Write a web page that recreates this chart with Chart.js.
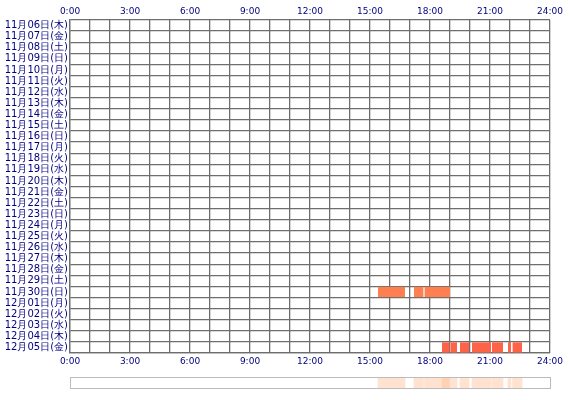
<!DOCTYPE html>
<html><head><meta charset="utf-8">
<script src="https://cdn.jsdelivr.net/npm/chart.js@4/dist/chart.umd.min.js"></script>
<style>body{margin:0;background:#fff}#w{position:relative;width:570px;height:400px}
canvas{position:absolute;left:0}</style></head>
<body><div id="w"><canvas id="c1" style="top:0" width="570" height="372"></canvas><canvas id="c2" style="top:372px" width="570" height="28"></canvas></div>
<script>
const days = ["11月06日(木)","11月07日(金)","11月08日(土)","11月09日(日)","11月10日(月)","11月11日(火)","11月12日(水)","11月13日(木)","11月14日(金)","11月15日(土)","11月16日(日)","11月17日(月)","11月18日(火)","11月19日(水)","11月20日(木)","11月21日(金)","11月22日(土)","11月23日(日)","11月24日(月)","11月25日(火)","11月26日(水)","11月27日(木)","11月28日(金)","11月29日(土)","11月30日(日)","12月01日(月)","12月02日(火)","12月03日(水)","12月04日(木)","12月05日(金)"];
const segDay   = ["11月30日(日)","11月30日(日)","11月30日(日)","12月05日(金)","12月05日(金)","12月05日(金)","12月05日(金)","12月05日(金)","12月05日(金)","12月05日(金)"];
const segStart = [15.4, 17.2, 17.73, 18.6, 19.03, 19.5, 20.1, 21.1, 21.9, 22.13];
const segEnd   = [16.75, 17.67, 19.0, 18.97, 19.35, 19.95, 21.05, 21.65, 22.05, 22.6];
const segColor = ["#ff7f50","#ff7f50","#ff7f50","#ff6347","#ff6347","#ff6347","#ff6347","#ff6347","#ff6347","#ff6347"];
const hourTicks = ["0:00","3:00","6:00","9:00","12:00","15:00","18:00","21:00","24:00"];

const segData = segStart.map((s,i)=>({x:[s,segEnd[i]], y:segDay[i]}));
const font = {family:"'DejaVu Sans', sans-serif", size:10};
const tick = {font:{family:font.family,size:9}, color:'#000080', autoSkip:false, stepSize:1, maxRotation:0,
  callback:v=> v%3===0 ? hourTicks[v/3] : ''};
new Chart(document.getElementById('c1'), {
  type:'bar',
  data:{labels:days, datasets:[{data:segData, backgroundColor:segColor, grouped:false,
    categoryPercentage:1, barPercentage:0.92, borderWidth:0}]},
  options:{responsive:false, animation:false, indexAxis:'y',
    layout:{padding:{left:0,right:20,top:0,bottom:0}},
    plugins:{legend:{display:false}, tooltip:{enabled:false}},
    scales:{
      y:{type:'category', ticks:{font, color:'#000080', autoSkip:false, padding:2},
        grid:{color:'#6e6e6e', lineWidth:1.3, offset:true, drawTicks:false}, border:{color:'#6e6e6e', width:1.3},
        afterFit:s=>{s.width=70;}},
      x:{type:'linear', position:'bottom', min:0, max:24, ticks:tick,
        grid:{color:'#6e6e6e', lineWidth:1.3, drawTicks:false}, border:{color:'#6e6e6e', width:1.3}, afterFit:s=>{s.height=19;}},
      x2:{type:'linear', position:'top', min:0, max:24, ticks:tick,
        grid:{display:false, drawTicks:false}, border:{display:false}, afterFit:s=>{s.height=20;}}
    }}
});
new Chart(document.getElementById('c2'), {
  type:'bar',
  data:{labels:['all'], datasets:[{data:segStart.map((s,i)=>({x:[s,segEnd[i]],y:'all'})),
    backgroundColor:'rgba(255,190,150,0.45)', grouped:false, categoryPercentage:1, barPercentage:1, borderWidth:0}]},
  options:{responsive:false, animation:false, indexAxis:'y',
    layout:{padding:{left:70,right:20,top:5,bottom:12}},
    plugins:{legend:{display:false}, tooltip:{enabled:false}},
    scales:{x:{type:'linear',min:0,max:24,display:false}, y:{display:false}}},
  plugins:[{id:'b', afterDraw(c){const a=c.chartArea,x=c.ctx;x.save();x.strokeStyle='#bbbbbb';x.lineWidth=1;
    x.strokeRect(Math.round(a.left)+0.5,Math.round(a.top)+0.5,Math.round(a.width),Math.round(a.height));x.restore();}}]
});
</script></body></html>
